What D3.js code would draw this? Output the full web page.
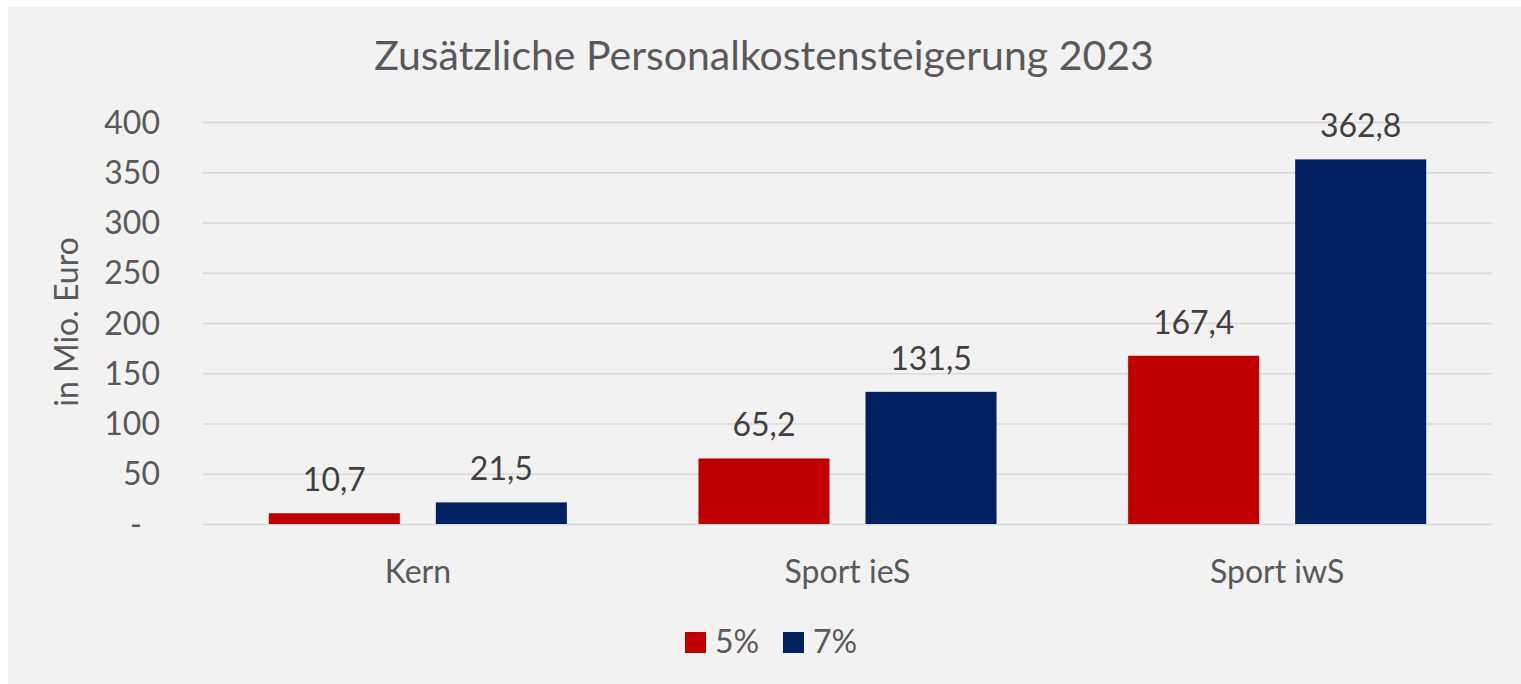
<!DOCTYPE html>
<html><head><meta charset="utf-8">
<script src="https://cdn.jsdelivr.net/npm/d3@7"></script>
<style>html,body{margin:0;padding:0;background:#fff;} svg{display:block;}</style>
</head><body>
<svg id="chart" width="1521" height="684"></svg>
<script>
const title = "Zusätzliche Personalkostensteigerung 2023";
const categories = ["Kern", "Sport ieS", "Sport iwS"];
const seriesNames = ["5%", "7%"];
const values5 = [10.7, 65.2, 167.4];
const values7 = [21.5, 131.5, 362.8];
const yTicks = [0, 50, 100, 150, 200, 250, 300, 350, 400];
const yTickLabels = ["-", "50", "100", "150", "200", "250", "300", "350", "400"];
const yAxisTitle = "in Mio. Euro";
const colors = ["#c00000", "#002060"];

const FONT = "Lato, 'Open Sans', sans-serif";
const svg = d3.select("#chart");
const W = 1521, H = 684;

svg.append("rect").attr("x", 8).attr("y", 7).attr("width", W - 8).attr("height", H - 7).attr("fill", "#f2f2f2");

const plot = {left: 203, right: 1492, top: 122, bottom: 524};
const x0 = d3.scaleBand().domain(categories).range([plot.left, plot.right]).paddingInner(0).paddingOuter(0);
const x1 = d3.scaleBand().domain(seriesNames).range([0, x0.bandwidth()]).paddingInner(0.2156).paddingOuter(0.394);
const y = d3.scaleLinear().domain([0, 400]).range([plot.bottom, plot.top]);

// gridlines
const yAxis = d3.axisLeft(y).tickValues(yTicks).tickSize(-(plot.right - plot.left)).tickFormat((d, i) => yTickLabels[i]);
const gy = svg.append("g").attr("transform", `translate(${plot.left},0)`).call(yAxis);
gy.select(".domain").remove();
gy.selectAll(".tick line").attr("stroke", "#d9d9d9").attr("stroke-width", 1.5);
gy.selectAll(".tick text")
  .attr("x", -43).attr("dy", "0.35em")
  .attr("fill", "#595959").attr("font-family", FONT).attr("font-size", 32)
  .attr("dx", (d) => d === 0 ? -18 : 0);

// bars
const rows = categories.map((c, i) => ({cat: c, vals: [values5[i], values7[i]]}));
const groups = svg.append("g").selectAll("g").data(rows).join("g")
  .attr("transform", d => `translate(${x0(d.cat)},0)`);
groups.selectAll("rect").data(d => d.vals.map((v, j) => ({s: seriesNames[j], v, j}))).join("rect")
  .attr("x", d => x1(d.s)).attr("width", x1.bandwidth())
  .attr("y", d => y(d.v)).attr("height", d => y(0) - y(d.v))
  .attr("fill", d => colors[d.j]);
groups.selectAll("text").data(d => d.vals.map((v, j) => ({s: seriesNames[j], v, j}))).join("text")
  .attr("x", d => x1(d.s) + x1.bandwidth() / 2)
  .attr("y", d => y(d.v) - 22)
  .attr("text-anchor", "middle")
  .attr("fill", "#404040").attr("font-family", FONT).attr("font-size", 32)
  .text(d => d.v.toFixed(1).replace(".", ","));

// category axis labels
const xAxis = d3.axisBottom(x0).tickSize(0).tickPadding(0);
const gx = svg.append("g").attr("transform", `translate(0,${plot.bottom})`).call(xAxis);
gx.select(".domain").remove();
gx.selectAll(".tick text").attr("y", 59).attr("dy", 0)
  .attr("fill", "#595959").attr("font-family", FONT).attr("font-size", 32);

// title
svg.append("text").attr("x", 764).attr("y", 70).attr("text-anchor", "middle")
  .attr("fill", "#595959").attr("font-family", FONT).attr("font-size", 41).text(title);

// y axis title
svg.append("text").attr("transform", "translate(78,322) rotate(-90)").attr("text-anchor", "middle")
  .attr("fill", "#595959").attr("font-family", FONT).attr("font-size", 32).text(yAxisTitle);

// legend
const legendX = [685, 783];
const leg = svg.append("g").selectAll("g").data(seriesNames).join("g")
  .attr("transform", (d, i) => `translate(${legendX[i]},632)`);
leg.append("rect").attr("width", 21).attr("height", 21).attr("fill", (d, i) => colors[i]);
leg.append("text").attr("x", 30).attr("y", 21)
  .attr("fill", "#595959").attr("font-family", FONT).attr("font-size", 32).text(d => d);
</script>
</body></html>
